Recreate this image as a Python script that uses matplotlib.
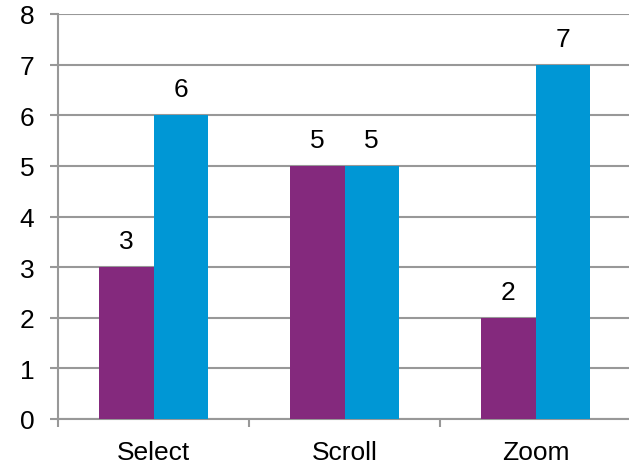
import matplotlib.pyplot as plt
import numpy as np

plt.rcParams['font.family'] = ['Liberation Sans', 'DejaVu Sans']

# chart data
categories = ['Select', 'Scroll', 'Zoom']
series_a = [3, 5, 2]
series_b = [6, 5, 7]

purple = '#84297D'
blue = '#0097D5'
grey = '#989898'

fig = plt.figure(figsize=(6.29, 4.64), dpi=100)
ax = fig.add_axes([58 / 629, 44 / 464, 573 / 629, 405 / 464])

x = np.arange(len(categories))
w = 0.285

bars_a = ax.bar(x - w / 2, series_a, width=w, color=purple, zorder=3)
bars_b = ax.bar(x + w / 2, series_b, width=w, color=blue, zorder=3)

# value labels above each bar
for bars in (bars_a, bars_b):
    for b in bars:
        ax.annotate(f'{b.get_height():g}',
                    (b.get_x() + b.get_width() / 2, b.get_height()),
                    xytext=(0, 10), textcoords='offset points',
                    ha='center', va='bottom', fontsize=19)

ax.set_xlim(-0.5, len(categories) - 0.5)
ax.set_ylim(0, 8)
ax.set_yticks(range(0, 9))
ax.yaxis.grid(True, color=grey, linewidth=1.5, zorder=0)

# category ticks sit between the groups, labels in the middle
ax.set_xticks(np.arange(-0.5, len(categories), 1.0))
ax.set_xticklabels([])
ax.set_xticks(x, minor=True)
ax.set_xticklabels(categories, minor=True)
ax.tick_params(axis='x', which='minor', length=0, pad=15, labelsize=19)
ax.tick_params(axis='x', which='major', length=6, width=1.5, color=grey)
ax.tick_params(axis='y', length=6, width=1.5, color=grey, pad=11, labelsize=19)

for side in ('top', 'right'):
    ax.spines[side].set_visible(False)
for side in ('left', 'bottom'):
    ax.spines[side].set_color(grey)
    ax.spines[side].set_linewidth(1.5)

fig.savefig('out.png', dpi=100)
